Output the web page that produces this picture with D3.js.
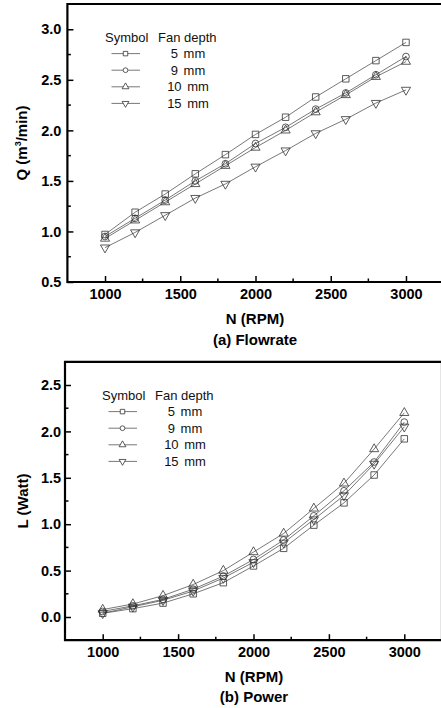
<!DOCTYPE html>
<html><head><meta charset="utf-8">
<script src="https://cdn.jsdelivr.net/npm/d3@7"></script>
<style>
html,body{margin:0;padding:0;background:#fff;}
svg{display:block;font-family:"Liberation Sans",Arial,sans-serif;}
</style></head>
<body>
<svg id="c" width="441" height="708"></svg>
<script>
const rpm = [1000,1200,1400,1600,1800,2000,2200,2400,2600,2800,3000];
const depths = ["5 mm","9 mm","10 mm","15 mm"];
const symbolsKeys = ["square","circle","triangle","down"];
const flow5  = [0.97,1.19,1.37,1.57,1.76,1.96,2.13,2.33,2.51,2.69,2.87];
const flow9  = [0.95,1.13,1.31,1.50,1.67,1.87,2.03,2.21,2.37,2.55,2.73];
const flow10 = [0.93,1.11,1.29,1.47,1.65,1.83,2.00,2.18,2.35,2.53,2.68];
const flow15 = [0.84,0.99,1.16,1.33,1.47,1.64,1.80,1.97,2.11,2.27,2.40];
const pow5  = [0.04,0.09,0.15,0.25,0.37,0.55,0.74,0.99,1.23,1.53,1.92];
const pow9  = [0.06,0.12,0.19,0.30,0.44,0.62,0.83,1.09,1.36,1.67,2.10];
const pow10 = [0.08,0.14,0.23,0.35,0.50,0.70,0.90,1.17,1.44,1.81,2.20];
const pow15 = [0.04,0.11,0.18,0.28,0.42,0.59,0.80,1.05,1.31,1.65,2.05];
const xTicks = [1000,1500,2000,2500,3000];
const flowTicks = [0.5,1.0,1.5,2.0,2.5,3.0];
const powTicks = [0.0,0.5,1.0,1.5,2.0,2.5];

const svg = d3.select("#c");
const FONT = '"Liberation Sans",Arial,sans-serif';

function sym(key, size){
  if(key==="square") return d3.symbol(d3.symbolSquare, size)();
  if(key==="circle") return d3.symbol(d3.symbolCircle, size)();
  return d3.symbol(d3.symbolTriangle, size)();
}
const plotSize = {square:42, circle:36, triangle:36, down:36};
const legSize = {square:20, circle:18, triangle:20, down:20};

function chart(cfg){
  const g = svg.append("g");
  const x = d3.scaleLinear().domain([750,3250]).range(cfg.xr);
  const y = d3.scaleLinear().domain(cfg.yd).range(cfg.yr);
  const [x0,x1] = cfg.xr, [yb,yt] = cfg.yr;

  const xMinor = d3.range(1250,3000,500);
  const yMinor = cfg.yMinor;
  g.append("g").selectAll("line").data(xMinor).join("line")
    .attr("x1",d=>x(d)).attr("x2",d=>x(d)).attr("y1",yb).attr("y2",yb-3.5)
    .attr("stroke","#000").attr("stroke-width",1.5);
  g.append("g").selectAll("line").data(yMinor).join("line")
    .attr("x1",x0).attr("x2",x0+3.5).attr("y1",d=>y(d)).attr("y2",d=>y(d))
    .attr("stroke","#000").attr("stroke-width",1.5);

  const xa = g.append("g").attr("transform",`translate(0,${yb})`)
    .call(d3.axisBottom(x).tickValues(xTicks).tickFormat(d3.format("d")).tickSize(-6).tickPadding(7));
  const ya = g.append("g").attr("transform",`translate(${x0},0)`)
    .call(d3.axisLeft(y).tickValues(cfg.yTicks).tickFormat(d3.format(".1f")).tickSize(-6).tickPadding(cfg.ypad));
  [xa,ya].forEach(a=>{
    a.select(".domain").remove();
    a.selectAll(".tick line").attr("stroke","#000").attr("stroke-width",1.5);
    a.selectAll("text").attr("font-family",FONT).attr("font-size",14.5).attr("font-weight","bold").attr("fill","#000");
  });

  g.append("path").attr("d",`M${x1},${yt}H${x0}V${yb}H${x1}Z`)
    .attr("fill","none").attr("stroke","#000").attr("stroke-width",2.2);

  const line = d3.line().x((d,i)=>x(rpm[i])).y(d=>y(d));
  cfg.series.forEach((s,k)=>{
    g.append("path").datum(s).attr("d",line).attr("fill","none")
      .attr("stroke","#555").attr("stroke-width",0.8);
  });
  cfg.series.forEach((s,k)=>{
    const key = symbolsKeys[k];
    g.append("g").selectAll("path").data(s).join("path")
      .attr("d",sym(key,plotSize[key]))
      .attr("transform",(d,i)=>`translate(${x(rpm[i])},${y(d)})${key==="down"?" rotate(180)":""}`)
      .attr("fill","none").attr("stroke","#333").attr("stroke-width",0.8);
  });

  const lg = g.append("g");
  lg.append("text").attr("x",cfg.lx).attr("y",cfg.ly).text("Symbol")
    .attr("font-family",FONT).attr("font-size",13).attr("fill","#111");
  lg.append("text").attr("x",cfg.lx+53).attr("y",cfg.ly).text("Fan depth")
    .attr("font-family",FONT).attr("font-size",13).attr("fill","#111");
  depths.forEach((t,k)=>{
    const yy = cfg.ly + 16.6*(k+1);
    const key = symbolsKeys[k];
    const cy = yy-4.5;
    lg.append("line").attr("x1",cfg.lx+6.5).attr("x2",cfg.lx+35).attr("y1",cy).attr("y2",cy)
      .attr("stroke","#555").attr("stroke-width",0.8);
    lg.append("path").attr("d",sym(key,legSize[key]))
      .attr("transform",`translate(${cfg.lx+20.5},${cy})${key==="down"?" rotate(180)":""}`)
      .attr("fill","#fff").attr("stroke","#333").attr("stroke-width",0.8);
    lg.append("text").attr("x",cfg.lx+83).attr("y",yy).attr("text-anchor","middle")
      .attr("word-spacing",2).text(t)
      .attr("font-family",FONT).attr("font-size",13).attr("fill","#111");
  });

  const yt1 = g.append("text").attr("transform",`translate(${cfg.ylx},${(yb+yt)/2}) rotate(-90)`)
    .attr("text-anchor","middle").attr("font-family",FONT).attr("font-size",15).attr("font-weight","bold").attr("fill","#000");
  cfg.ylabel(yt1);
  g.append("text").attr("x",cfg.xc).attr("y",cfg.xlb).attr("text-anchor","middle")
    .attr("font-family",FONT).attr("font-size",15).attr("font-weight","bold").text("N (RPM)");
  g.append("text").attr("x",cfg.xc).attr("y",cfg.xlb+20.5).attr("text-anchor","middle")
    .attr("font-family",FONT).attr("font-size",15).attr("font-weight","bold").text(cfg.caption);
}

chart({
  xr:[67.4,443.6], yd:[0.5,3.25], yr:[282,4], ypad:6,
  yTicks:flowTicks, yMinor:d3.range(0.75,3.2,0.5),
  series:[flow5,flow9,flow10,flow15],
  lx:105, ly:41.5, ylx:27, xc:255, xlb:324, caption:"(a) Flowrate",
  ylabel:t=>{ t.append("tspan").text("Q (m");
    t.append("tspan").attr("font-size",9).attr("dy",-6).text("3");
    t.append("tspan").attr("dy",6).text("/min)"); }
});
chart({
  xr:[65,442], yd:[-0.25,2.75], yr:[640.2,361.8], ypad:3.8,
  yTicks:powTicks, yMinor:d3.range(0.25,2.3,0.5),
  series:[pow5,pow9,pow10,pow15],
  lx:102, ly:399.5, ylx:28, xc:254, xlb:681.5, caption:"(b) Power",
  ylabel:t=>t.text("L (Watt)")
});
</script>
</body></html>
